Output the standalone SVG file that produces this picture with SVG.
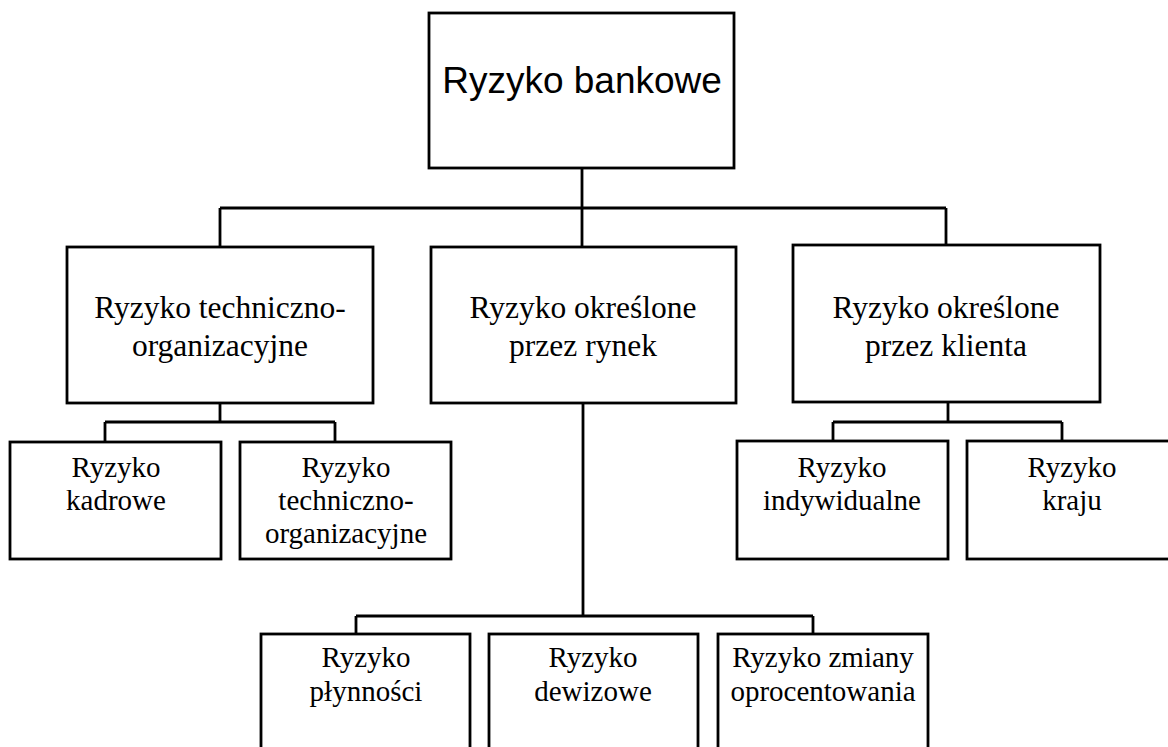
<svg xmlns="http://www.w3.org/2000/svg" width="1168" height="747" viewBox="0 0 1168 747">
  <style>
    .box { fill: #ffffff; stroke: #000000; stroke-width: 2.8; }
    .link { fill: none; stroke: #000000; stroke-width: 2.8; }
    .title { font-family: "Liberation Sans", Arial, sans-serif; font-size: 37px; fill: #000000; text-anchor: middle; }
    .l2 { font-family: "Liberation Serif", "Times New Roman", serif; font-size: 31.5px; fill: #000000; text-anchor: middle; }
    .l3 { font-family: "Liberation Serif", "Times New Roman", serif; font-size: 29px; fill: #000000; text-anchor: middle; }
  </style>
  <rect width="1168" height="747" fill="#ffffff"/>

  <!-- connectors -->
  <g id="connectors">
    <path class="link" d="M582,168 V208 M220,208 H946 M220,208 V247 M582,208 V247 M946,208 V245"/>
    <path class="link" d="M220,403 V422 M105,422 H335 M105,422 V442 M335,422 V442"/>
    <path class="link" d="M948,402 V422 M833,422 H1062 M833,422 V441 M1062,422 V441"/>
    <path class="link" d="M583,403 V616 M356,616 H813 M356,616 V634 M813,616 V634"/>
  </g>

  <!-- root -->
  <g id="ryzyko-bankowe">
    <rect class="box" x="429" y="13" width="305" height="155"/>
    <text class="title" x="582" y="93">Ryzyko bankowe</text>
  </g>

  <!-- second level -->
  <g id="techniczno-organizacyjne">
    <rect class="box" x="67" y="247" width="306" height="156"/>
    <text class="l2" x="220" y="318">Ryzyko techniczno-</text>
    <text class="l2" x="220" y="356">organizacyjne</text>
  </g>
  <g id="okreslone-rynek">
    <rect class="box" x="431" y="247" width="305" height="156"/>
    <text class="l2" x="583" y="318">Ryzyko określone</text>
    <text class="l2" x="583" y="356">przez rynek</text>
  </g>
  <g id="okreslone-klient">
    <rect class="box" x="793" y="245" width="307" height="157"/>
    <text class="l2" x="946" y="318">Ryzyko określone</text>
    <text class="l2" x="946" y="356">przez klienta</text>
  </g>

  <!-- third level: technical/organisational -->
  <g id="kadrowe">
    <rect class="box" x="10" y="442" width="211" height="117"/>
    <text class="l3" x="116" y="477">Ryzyko</text>
    <text class="l3" x="116" y="510">kadrowe</text>
  </g>
  <g id="techniczno-organizacyjne-2">
    <rect class="box" x="240" y="442" width="211" height="117"/>
    <text class="l3" x="346" y="477">Ryzyko</text>
    <text class="l3" x="346" y="510">techniczno-</text>
    <text class="l3" x="346" y="543">organizacyjne</text>
  </g>

  <!-- third level: client -->
  <g id="indywidualne">
    <rect class="box" x="737" y="441" width="211" height="118"/>
    <text class="l3" x="842" y="477">Ryzyko</text>
    <text class="l3" x="842" y="510">indywidualne</text>
  </g>
  <g id="kraju">
    <rect class="box" x="967" y="441" width="215" height="118"/>
    <text class="l3" x="1072" y="477">Ryzyko</text>
    <text class="l3" x="1072" y="510">kraju</text>
  </g>

  <!-- third level: market -->
  <g id="plynnosci">
    <rect class="box" x="261" y="634" width="209" height="130"/>
    <text class="l3" x="366" y="667">Ryzyko</text>
    <text class="l3" x="366" y="701">płynności</text>
  </g>
  <g id="dewizowe">
    <rect class="box" x="489" y="634" width="209" height="130"/>
    <text class="l3" x="593" y="667">Ryzyko</text>
    <text class="l3" x="593" y="701">dewizowe</text>
  </g>
  <g id="zmiany-oprocentowania">
    <rect class="box" x="718" y="634" width="210" height="130"/>
    <text class="l3" x="823" y="667">Ryzyko zmiany</text>
    <text class="l3" x="823" y="701">oprocentowania</text>
  </g>
</svg>
